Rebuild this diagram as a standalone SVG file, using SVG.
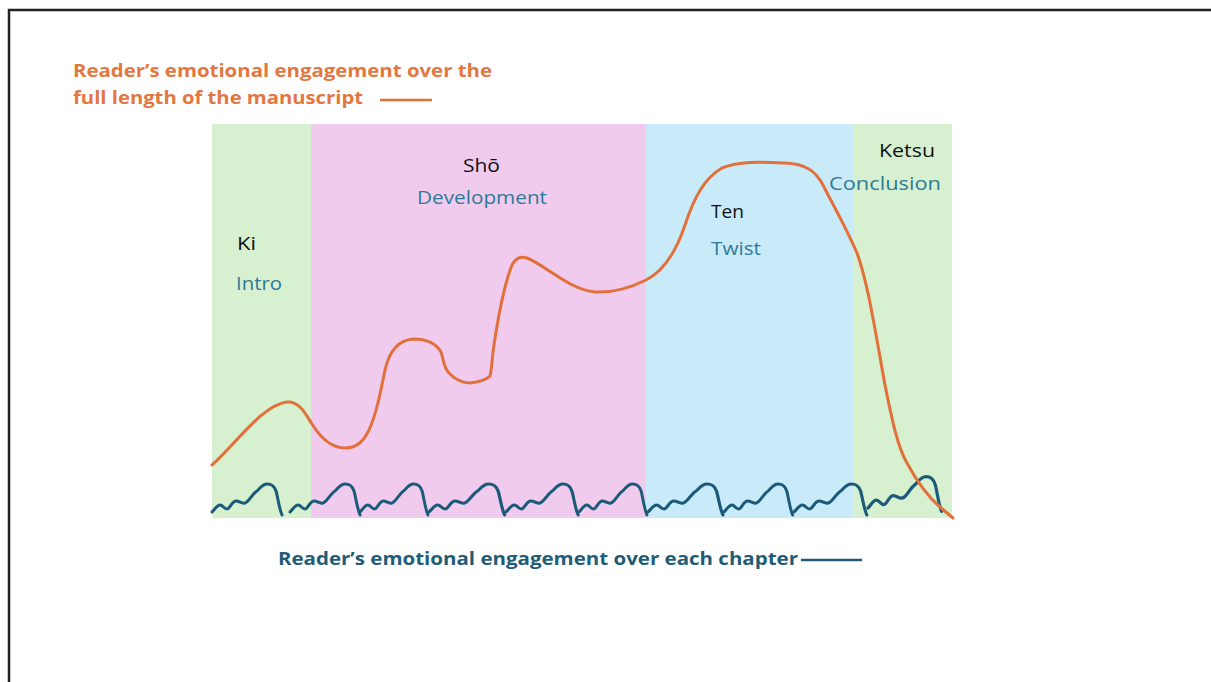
<svg xmlns="http://www.w3.org/2000/svg" xmlns:xlink="http://www.w3.org/1999/xlink" width="1211" height="682" viewBox="0 0 1211 682">
<style>
.frame{stroke:#222;stroke-width:2.5;fill:none}
.title-o{font-family:"Open Sans","Liberation Sans",sans-serif;font-weight:700;font-size:17.5px;fill:#e2773f}
.title-b{font-family:"Open Sans","Liberation Sans",sans-serif;font-weight:700;font-size:17.5px;fill:#1f5c76}
.jp{font-family:"Open Sans","Liberation Sans",sans-serif;font-size:18.5px;fill:#111}
.en{font-family:"Open Sans","Liberation Sans",sans-serif;font-size:18.5px;fill:#2f7a98}
.orange{fill:none;stroke:#e2703a;stroke-width:3;stroke-linecap:round;stroke-linejoin:round}
.teal{fill:none;stroke:#1b5a78;stroke-width:3;stroke-linecap:round;stroke-linejoin:round}
</style>
<defs>
<path id="chapter" d="M0,0 C3,-3 5,-7 8,-7 C11,-7 12,-3 15,-3 C18,-3 20,-11 24,-11 C28,-11 29,-8 33,-9 C37,-10 40,-18 45,-21 C49,-25 51,-28 55,-28 C59,-28 62,-27 64,-21 C66,-14 67,-4 70,3"/>
</defs>
<rect width="1211" height="682" fill="#fff"/>
<path class="frame" d="M9,682 V10 H1211"/>

<g id="legend-top">
<text class="title-o" x="73" y="77" textLength="419" lengthAdjust="spacingAndGlyphs">Reader’s emotional engagement over the</text>
<text class="title-o" x="73" y="104" textLength="290" lengthAdjust="spacingAndGlyphs">full length of the manuscript</text>
<line x1="380" y1="100" x2="432" y2="100" stroke="#e2703a" stroke-width="2.5"/>
</g>

<g id="ki">
<rect x="212" y="124" width="99" height="394" fill="#d6f0d0"/>
<text class="jp" x="237" y="250" textLength="19" lengthAdjust="spacingAndGlyphs">Ki</text>
<text class="en" x="236" y="290" textLength="46" lengthAdjust="spacingAndGlyphs">Intro</text>
</g>
<g id="sho">
<rect x="311" y="124" width="335" height="394" fill="#f0cbee"/>
<text class="jp" x="463" y="172" textLength="37" lengthAdjust="spacingAndGlyphs">Shō</text>
<text class="en" x="417" y="204" textLength="130" lengthAdjust="spacingAndGlyphs">Development</text>
</g>
<g id="ten">
<rect x="646" y="124" width="207" height="394" fill="#c9ebf9"/>
<text class="jp" x="711" y="218" textLength="33" lengthAdjust="spacingAndGlyphs">Ten</text>
<text class="en" x="711" y="255" textLength="50" lengthAdjust="spacingAndGlyphs">Twist</text>
</g>
<g id="ketsu">
<rect x="853" y="124" width="99" height="394" fill="#d6f0d0"/>
<text class="jp" x="879" y="157" textLength="56" lengthAdjust="spacingAndGlyphs">Ketsu</text>
<text class="en" x="829" y="190" textLength="112" lengthAdjust="spacingAndGlyphs">Conclusion</text>
</g>

<g id="connectors">
<g id="chapter-curves" class="teal">
<use xlink:href="#chapter" transform="translate(212,512)"/>
<use xlink:href="#chapter" transform="translate(290,512)"/>
<use xlink:href="#chapter" transform="translate(360,512) scale(0.97,1)"/>
<use xlink:href="#chapter" transform="translate(429,512) scale(1.08,1)"/>
<use xlink:href="#chapter" transform="translate(506,512) scale(1.03,1)"/>
<use xlink:href="#chapter" transform="translate(579,512) scale(0.97,1)"/>
<use xlink:href="#chapter" transform="translate(648,512) scale(1.07,1)"/>
<use xlink:href="#chapter" transform="translate(724,512) scale(0.98,1)"/>
<use xlink:href="#chapter" transform="translate(794,512) scale(1.04,1)"/>
<use xlink:href="#chapter" transform="translate(868,508) scale(1.05,1.12)"/>
</g>
<path id="manuscript-curve" class="orange" d="M212,465 C235,445 262,405 287,402 C300,401 306,415 312,424 C322,440 332,448 345,448 C358,448 364,440 369,430 C376,415 380,395 385,370 C390,348 400,340 413,339 C425,339 436,343 441,352 C444,360 443,368 450,374 C456,380 462,383 470,383 C478,382 486,380 490,376 C492,368 492,357 494,345 C498,318 504,285 512,265 C516,258 520,256 527,258 C545,265 570,290 595,292 C615,293 632,287 646,280 C662,272 675,255 685,225 C695,195 705,178 722,168 C740,161 760,162 785,163 C805,164 815,170 823,185 C833,205 845,225 857,253 C868,283 875,330 885,385 C892,420 898,448 907,463 C915,478 926,495 940,507 L953,518"/>
</g>

<g id="legend-bottom">
<text class="title-b" x="278" y="565" textLength="520" lengthAdjust="spacingAndGlyphs">Reader’s emotional engagement over each chapter</text>
<line x1="801" y1="560" x2="862" y2="560" stroke="#1f5c76" stroke-width="2.5"/>
</g>
</svg>
